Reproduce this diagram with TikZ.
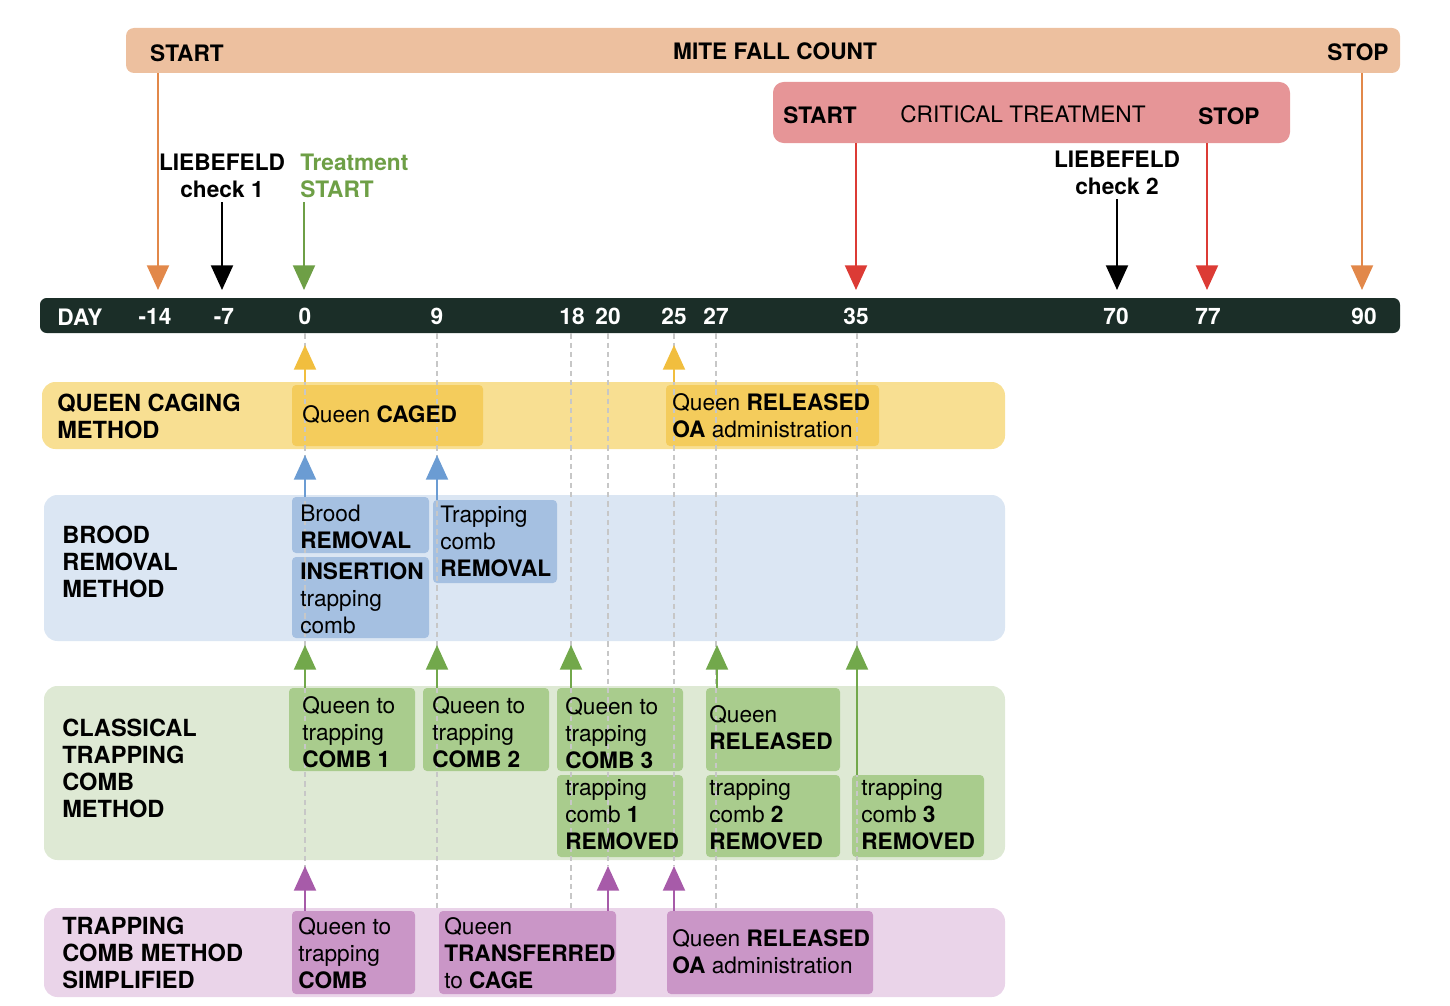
\documentclass[tikz,border=0pt]{standalone}
\usepackage{fontspec}
\setmainfont{TeX Gyre Heros}
\usetikzlibrary{arrows.meta,fit}
\definecolor{peach}{HTML}{EDC09F}
\definecolor{critc}{HTML}{E69597}
\definecolor{tlc}{HTML}{1B2E28}
\definecolor{orangea}{HTML}{E2884A}
\definecolor{reda}{HTML}{DC3B35}
\definecolor{tgreen}{HTML}{6E9F46}
\definecolor{yband}{HTML}{F8DF92}
\definecolor{ybox}{HTML}{F4CC5C}
\definecolor{yarr}{HTML}{F1BE3E}
\definecolor{bband}{HTML}{DBE6F3}
\definecolor{bbox}{HTML}{A5C0E1}
\definecolor{barr}{HTML}{6B9CD3}
\definecolor{gband}{HTML}{DEE9D4}
\definecolor{gbox}{HTML}{A9CC8D}
\definecolor{garr}{HTML}{72A84B}
\definecolor{pband}{HTML}{EAD4E9}
\definecolor{pbox}{HTML}{CA96C7}
\definecolor{parr}{HTML}{A75BA9}
\tikzset{
  band/.style={inner sep=0pt, rounded corners=10pt, draw=none},
  evbox/.style={inner sep=0pt, rounded corners=3pt, draw=none},
  arr/.style={line width=1.5pt, -{Triangle[width=16.5pt,length=18.5pt]}},
  dl/.style={draw=black!22, line width=0.9pt, dash pattern=on 4pt off 3pt},
  lbl/.style={anchor=west, align=left, inner sep=0pt},
  blbl/.style={anchor=west, align=left, inner sep=0pt, font=\fontsize{17.7}{20.25}\selectfont\bfseries},
  tick/.style={text=white, font=\fontsize{17}{20.25}\selectfont\bfseries, inner sep=0pt},
}
\begin{document}
\begin{tikzpicture}[x=0.75pt,y=-0.75pt,font=\fontsize{17}{20.25}\selectfont]
\useasboundingbox (0,0) rectangle (1450,1006);
% top bars
\node[fit={(126,28) (1400,73)}, band, rounded corners=6pt, fill=peach] (mfc) {};
\node[fit={(773,82) (1290,143)}, band, rounded corners=8pt, fill=critc] (ct) {};
\node[fit={(40,298) (1400,333)}, band, rounded corners=5pt, fill=tlc] (tl) {};
% bands
\node[fit={(42,382) (1005,449)}, band, fill=yband] (qband) {};
\node[fit={(44,495) (1005,641)}, band, fill=bband] (bbandn) {};
\node[fit={(44,686) (1005,860)}, band, fill=gband] (gbandn) {};
\node[fit={(44,908) (1005,997)}, band, fill=pband] (pbandn) {};
% event boxes
\node[fit={(292,385) (483,446)}, evbox, fill=ybox] (caged) {};
\node[fit={(666,385) (879,446)}, evbox, fill=ybox] (qrel) {};
\node[fit={(292,497) (429,553)}, evbox, fill=bbox] (brood) {};
\node[fit={(292,557) (429,638)}, evbox, fill=bbox] (insert) {};
\node[fit={(433,500) (557,583)}, evbox, fill=bbox] (trem) {};
\node[fit={(289,688) (415,771)}, evbox, fill=gbox] (comb1) {};
\node[fit={(423,688) (549,771)}, evbox, fill=gbox] (comb2) {};
\node[fit={(557,688) (683,771)}, evbox, fill=gbox] (comb3) {};
\node[fit={(706,688) (840,771)}, evbox, fill=gbox] (grel) {};
\node[fit={(557,775) (683,857)}, evbox, fill=gbox] (tc1) {};
\node[fit={(706,775) (840,857)}, evbox, fill=gbox] (tc2) {};
\node[fit={(852,775) (984,857)}, evbox, fill=gbox] (tc3) {};
\node[fit={(292,911) (415,994)}, evbox, fill=pbox] (ptc) {};
\node[fit={(439,911) (616,994)}, evbox, fill=pbox] (ptrans) {};
\node[fit={(667,911) (873,994)}, evbox, fill=pbox] (prel) {};
% tip coordinates
\coordinate (tm14) at (158,290);
\coordinate (tm7) at (222,290);
\coordinate (t0) at (304,290);
\coordinate (t35) at (856,290);
\coordinate (t70) at (1117,290);
\coordinate (t77) at (1207,290);
\coordinate (t90) at (1362,290);
\coordinate (uy0) at (305,345);
\coordinate (uy25) at (674,345);
\coordinate (ub0) at (305,455);
\coordinate (ub9) at (437,455);
\coordinate (ug0) at (305,645);
\coordinate (ug9) at (437,645);
\coordinate (ug18) at (571,645);
\coordinate (ug27) at (717,645);
\coordinate (ug35) at (857,645);
\coordinate (up0) at (305,866);
\coordinate (up20) at (608,866);
\coordinate (up25) at (674,866);
% dashed guide lines
\draw[dl] (tl.south -| uy0) -- (pbandn.north -| uy0);
\draw[dl] (tl.south -| ub9) -- (pbandn.north -| ub9);
\draw[dl] (tl.south -| ug18) -- (pbandn.north -| ug18);
\draw[dl] (tl.south -| up20) -- (up20);
\draw[dl] (tl.south -| up25) -- (up25);
\draw[dl] ([xshift=-0.75pt]tl.south -| ug27) -- ([xshift=-0.75pt]pbandn.north -| ug27);
\draw[dl] (tl.south -| ug35) -- (pbandn.north -| ug35);
% top labels
\node[font=\fontsize{17}{20.25}\selectfont\bfseries, inner sep=0pt] (mstart) at (187,53) {START};
\node[font=\fontsize{17}{20.25}\selectfont\bfseries, inner sep=0pt] (mmid) at (775,51) {MITE FALL COUNT};
\node[font=\fontsize{17}{20.25}\selectfont\bfseries, inner sep=0pt] (mstop) at (1358,52) {STOP};
\node[font=\fontsize{17}{20.25}\selectfont\bfseries, inner sep=0pt] (cstart) at (820,115) {START};
\node[inner sep=0pt] (cmid) at (1023,114) {CRITICAL TREATMENT};
\node[font=\fontsize{17}{20.25}\selectfont\bfseries, inner sep=0pt] (cstop) at (1229,116) {STOP};
\node[font=\fontsize{17}{20.25}\selectfont\bfseries, align=center, inner sep=0pt] (lb1) at (222,176) {LIEBEFELD\\check 1};
\node[font=\fontsize{17}{20.25}\selectfont\bfseries, align=left, anchor=west, inner sep=0pt, text=tgreen] (ts) at (300,176) {Treatment\\START};
\node[font=\fontsize{17}{20.25}\selectfont\bfseries, align=center, inner sep=0pt] (lb2) at (1117,173) {LIEBEFELD\\check 2};
% timeline labels
\node[tick] (dday) at (80,317) {DAY};
\node[tick] (dm14) at (155,316) {-14};
\node[tick] (dm7) at (224,316) {-7};
\node[tick] (d0) at (305,316) {0};
\node[tick] (d9) at (437,316) {9};
\node[tick] (d18) at (572,316) {18};
\node[tick] (d20) at (608,316) {20};
\node[tick] (d25) at (674,316) {25};
\node[tick] (d27) at (716,316) {27};
\node[tick] (d35) at (856,316) {35};
\node[tick] (d70) at (1116,316) {70};
\node[tick] (d77) at (1208,316) {77};
\node[tick] (d90) at (1364,316) {90};
% top arrows
\draw[arr, orangea] (mfc.south -| tm14) -- (tm14);
\draw[arr, orangea] (mfc.south -| t90) -- (t90);
\draw[arr, reda] (ct.south -| t35) -- (t35);
\draw[arr, reda] (ct.south -| t77) -- (t77);
\draw[arr, black] ([yshift=-3pt]lb1.south -| tm7) -- (tm7);
\draw[arr, black] ([yshift=-3pt]lb2.south -| t70) -- (t70);
\draw[arr, tgreen] ([yshift=-3pt]ts.south -| t0) -- (t0);
% row arrows
\draw[arr, yarr] (qband.north -| uy0) -- (uy0);
\draw[arr, yarr] (qband.north -| uy25) -- (uy25);
\draw[arr, barr] (brood.north -| ub0) -- (ub0);
\draw[arr, barr] (trem.north -| ub9) -- (ub9);
\draw[arr, garr] (comb1.north -| ug0) -- (ug0);
\draw[arr, garr] (comb2.north -| ug9) -- (ug9);
\draw[arr, garr] (comb3.north -| ug18) -- (ug18);
\draw[arr, garr] (grel.north -| ug27) -- (ug27);
\draw[arr, garr] (tc3.north -| ug35) -- (ug35);
\draw[arr, parr] (ptc.north -| up0) -- (up0);
\draw[arr, parr] (ptrans.north -| up20) -- (up20);
\draw[arr, parr] (prel.north -| up25) -- (up25);
% band labels
\node[blbl] (qlab) at (57,416) {QUEEN CAGING\\METHOD};
\node[blbl] (blab) at (62,562) {BROOD\\REMOVAL\\METHOD};
\node[blbl] (glab) at (62,768) {CLASSICAL\\TRAPPING\\COMB\\METHOD};
\node[blbl] (plab) at (62,953) {TRAPPING\\COMB METHOD\\SIMPLIFIED};
% event texts
\node[lbl] (cagedt) at (302,415) {Queen \textbf{CAGED}};
\node[lbl] (qrelt) at (672,416) {Queen \textbf{RELEASED}\\\textbf{OA} administration};
\node[lbl] (broodt) at (300,527) {Brood\\\textbf{REMOVAL}};
\node[lbl] (insertt) at (300,598) {\textbf{INSERTION}\\trapping\\comb};
\node[lbl] (tremt) at (440,541) {Trapping\\comb\\\textbf{REMOVAL}};
\node[lbl] (comb1t) at (302,732) {Queen to\\trapping\\\textbf{COMB 1}};
\node[lbl] (comb2t) at (432,732) {Queen to\\trapping\\\textbf{COMB 2}};
\node[lbl] (comb3t) at (565,733) {Queen to\\trapping\\\textbf{COMB 3}};
\node[lbl] (grelt) at (709,728) {Queen\\\textbf{RELEASED}};
\node[lbl] (tc1t) at (565,815) {trapping\\comb \textbf{1}\\\textbf{REMOVED}};
\node[lbl] (tc2t) at (709,815) {trapping\\comb \textbf{2}\\\textbf{REMOVED}};
\node[lbl] (tc3t) at (861,815) {trapping\\comb \textbf{3}\\\textbf{REMOVED}};
\node[lbl] (ptct) at (298,953) {Queen to\\trapping\\\textbf{COMB}};
\node[lbl] (ptranst) at (444,953) {Queen\\\textbf{TRANSFERRED}\\to \textbf{CAGE}};
\node[lbl] (prelt) at (672,952) {Queen \textbf{RELEASED}\\\textbf{OA} administration};
\end{tikzpicture}
\end{document}
